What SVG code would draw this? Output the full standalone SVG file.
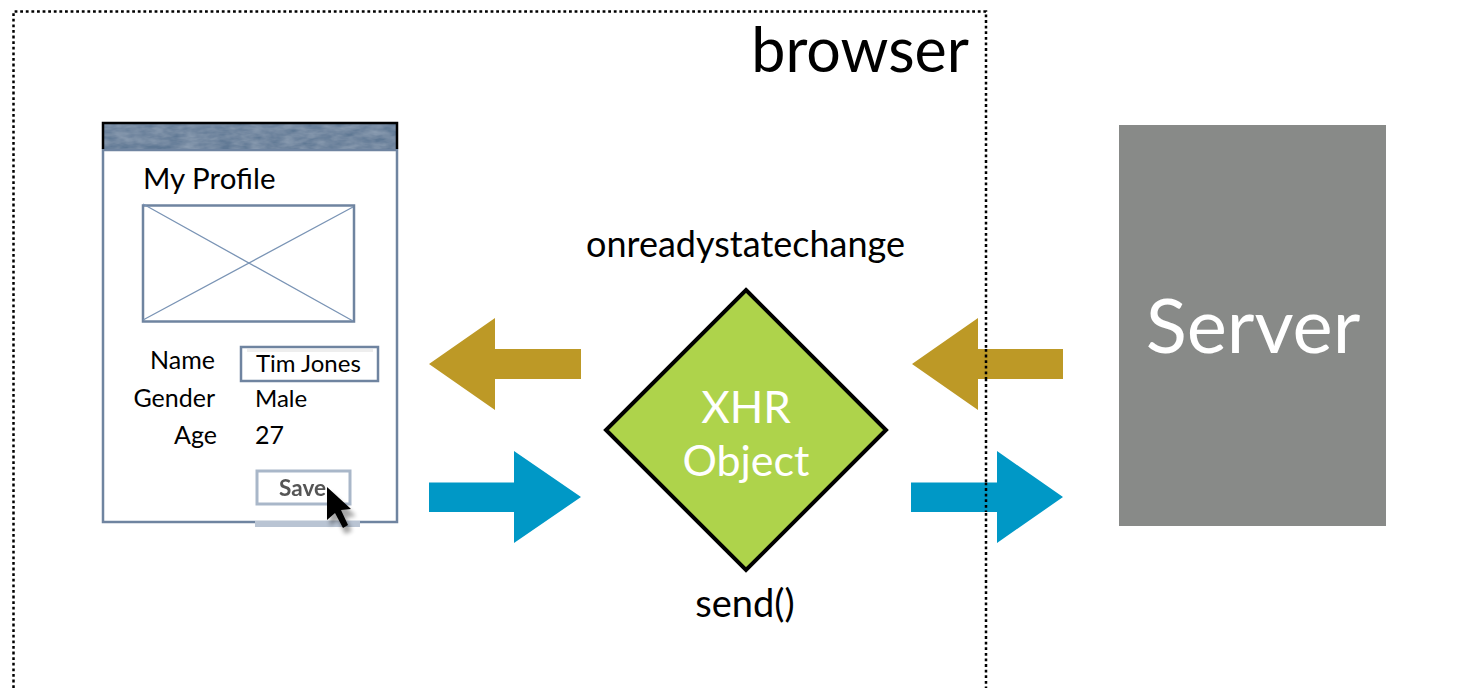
<svg xmlns="http://www.w3.org/2000/svg" width="1469" height="688" viewBox="0 0 1469 688">
<style>
text{font-family:"Lato","Open Sans","Liberation Sans",sans-serif;fill:#000}
.gold{fill:#bd9926}
.blue{fill:#0098c6}
.frame{fill:none;stroke:#6f84a0;stroke-width:2.5}
.x{stroke:#7a94b5;stroke-width:1.3}
.dots{fill:none;stroke:#000;stroke-width:2.5;stroke-dasharray:2.8 2.8}
.f25{font-size:25px}
.f36{font-size:36px}
</style>
<defs>
<filter id="mottle" x="0" y="0" width="100%" height="100%">
<feTurbulence type="fractalNoise" baseFrequency="0.06 0.16" numOctaves="3" seed="4" result="n"/>
<feColorMatrix in="n" type="matrix" values="0 0 0 0 0.6  0 0 0 0 0.68  0 0 0 0 0.78  0.45 0 0 0 -0.1" result="m"/>
<feComposite in="m" in2="SourceGraphic" operator="atop"/>
</filter>
<filter id="soft" x="-30%" y="-30%" width="170%" height="170%"><feGaussianBlur stdDeviation="0.5"/></filter>
<filter id="shadow" x="-50%" y="-50%" width="200%" height="200%"><feGaussianBlur stdDeviation="2"/></filter>
</defs>
<g id="browser">
<path class="dots" d="M13.500 688V11.500H986V688"/>
<text x="969" y="72" text-anchor="end" font-size="61">browser</text>
</g>
<g id="server">
<rect x="1119" y="125" width="267" height="401" fill="#888a88"/>
<text x="1253" y="353" text-anchor="middle" font-size="76" style="fill:#fff">Server</text>
</g>
<g id="profile-window">
<rect x="103" y="150" width="294" height="372" fill="#fff" class="frame"/>
<rect x="103" y="123" width="294" height="26" fill="#5f7894"/>
<rect x="103" y="123" width="294" height="26" fill="#5f7894" filter="url(#mottle)"/>
<path d="M103 149V123H397V149" fill="none" stroke="#000" stroke-width="2.500"/>
<text x="143" y="189" font-size="29.500">My Profile</text>
<rect x="143" y="205.500" width="211" height="116" fill="#fff" class="frame"/>
<path d="M143 204L353 321M143 320L353 207" class="x"/>
<text x="215" y="369" text-anchor="end" class="f25">Name</text>
<text x="215" y="407" text-anchor="end" class="f25">Gender</text>
<text x="217" y="444" text-anchor="end" class="f25">Age</text>
<rect x="241" y="347" width="137" height="34" fill="#fff" stroke="#6f84a0" stroke-width="2.500"/>
<rect x="247" y="349" width="126" height="3" fill="#eeeeee"/>
<text x="256" y="372" font-size="24">Tim Jones</text>
<text x="255" y="407" font-size="24">Male</text>
<text x="255" y="444" class="f25">27</text>
<rect x="257" y="471" width="93" height="33" fill="#fff" stroke="#a9b7c9" stroke-width="3" filter="url(#soft)"/>
<text x="279" y="496" font-size="23" textLength="47" lengthAdjust="spacingAndGlyphs" font-weight="700" style="fill:#555" filter="url(#soft)">Save</text>
<rect x="255" y="521" width="105" height="6" fill="#b9c4d3"/>
<path d="M330 492V526L338 520L345 534L352 531L346 518L356 516Z" fill="#000" opacity="0.35" filter="url(#shadow)"/>
<path d="M327 487V520L335 513L343 528L348 525L341 510L351 509Z" fill="#000"/>
</g>
<g id="xhr">
<path d="M746 290L886 430L746 570L606 430Z" fill="#aed34b" stroke="#000" stroke-width="4"/>
<text x="746" y="423" text-anchor="middle" font-size="44" style="fill:#fff">XHR</text>
<text x="746" y="476" text-anchor="middle" font-size="43" style="fill:#fff">Object</text>
<text x="745.500" y="257" text-anchor="middle" class="f36">onreadystatechange</text>
<text x="745" y="617" text-anchor="middle" font-size="38">send()</text>
</g>
<g id="connectors">
<path class="gold" d="M429 364L495 318V349H581V379H495V410Z"/>
<path class="blue" d="M429 482.500H514V451L581 497L514 543V512H429Z"/>
<path class="gold" d="M912 364L978 318V349H1063V379H978V410Z"/>
<path class="blue" d="M911 482.500H997V451L1063 497L997 543V512H911Z"/>
<path class="dots" d="M986 349V379M986 482.500V512"/>
</g>
</svg>
